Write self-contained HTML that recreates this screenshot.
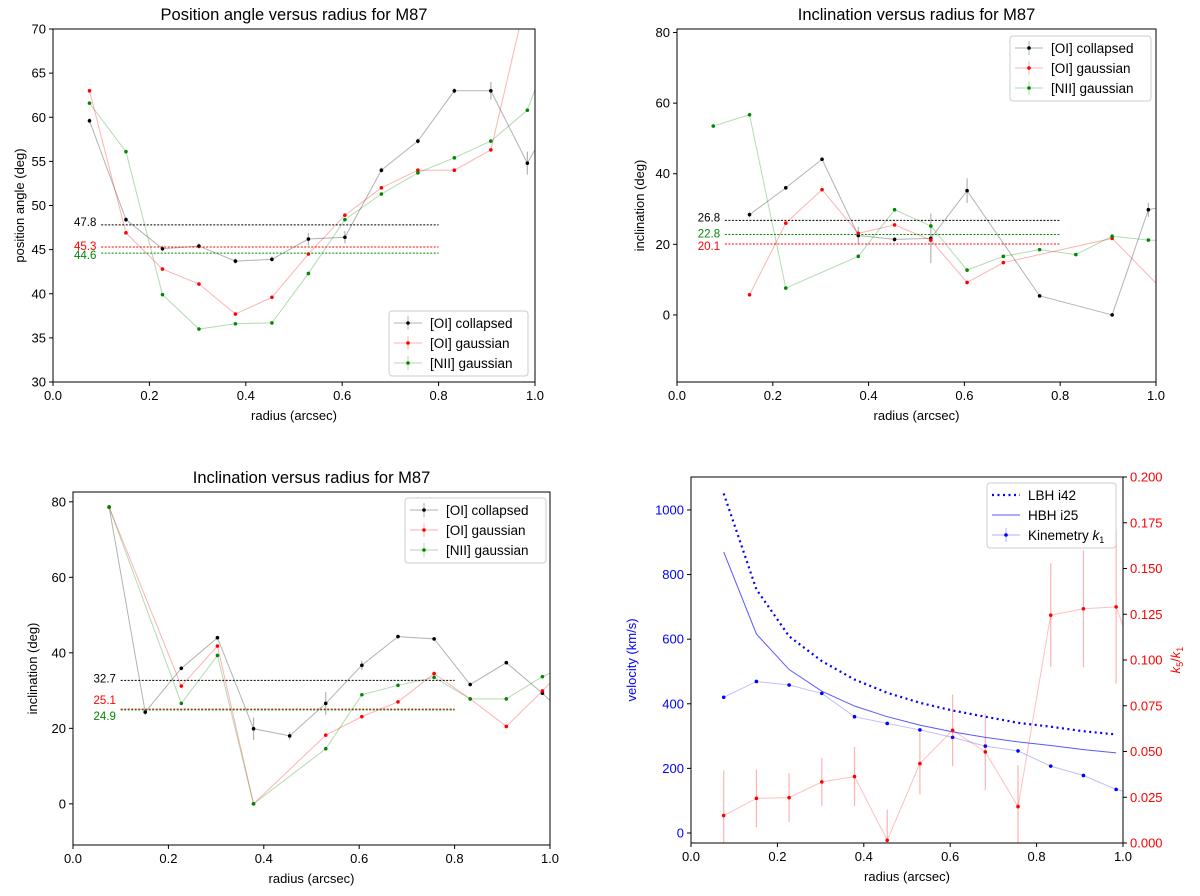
<!DOCTYPE html>
<html><head><meta charset="utf-8">
<style>
html,body{margin:0;padding:0;background:#fff;}
svg{display:block;font-family:"Liberation Sans","DejaVu Sans",sans-serif;}
</style></head>
<body>
<svg id="fig" width="1200" height="896" viewBox="0 0 1200 896" xmlns="http://www.w3.org/2000/svg"></svg>
<script>
const radii = [0.0757,0.1514,0.2271,0.3028,0.3785,0.4542,0.5299,0.6056,0.6813,0.757,0.8327,0.9084,0.9841,1.0598];

// Panel 1: position angle
const p1Black = [59.6,48.4,45.1,45.4,43.7,43.9,46.2,46.4,54.0,57.3,63.0,63.0,54.8,62];
const p1BlackErr = [0.3,0.3,0.3,0.3,0.3,0.3,0.7,0.7,0.3,0.3,0.3,1.0,1.3,0.5];
const p1Red = [63.0,46.9,42.8,41.1,37.7,39.6,44.5,48.9,52.0,54.0,54.0,56.3,74,80];
const p1Green = [61.6,56.1,39.9,36.0,36.6,36.7,42.3,48.4,51.3,53.7,55.4,57.3,60.8,72];
const p1Means = [47.8,45.3,44.6];

// Panel 2: inclination (top right)
const p2BlackX = [0.1514,0.2271,0.3028,0.3785,0.4542,0.5299,0.6056,0.757,0.9084,0.9841,1.0598];
const p2Black = [28.4,36.0,44.1,22.5,21.4,21.7,35.2,5.4,0.0,29.8,32];
const p2BlackErr = [0.8,0.5,0.5,2.5,0.6,7,3.5,0.3,0.3,2,0.5];
const p2RedX = [0.1514,0.2271,0.3028,0.3785,0.4542,0.5299,0.6056,0.6813,0.9084,1.0598];
const p2Red = [5.7,26.0,35.5,23.1,25.5,21.2,9.2,14.8,21.7,0.7];
const p2GreenX = [0.0757,0.1514,0.2271,0.3785,0.4542,0.5299,0.6056,0.6813,0.757,0.8327,0.9084,0.9841,1.0598];
const p2Green = [53.5,56.7,7.6,16.6,29.8,25.2,12.7,16.6,18.5,17.1,22.3,21.2,21.0];
const p2Means = [26.8,22.8,20.1];

// Panel 3: inclination (bottom left)
const p3BlackX = [0.0757,0.1514,0.2271,0.3028,0.3785,0.4542,0.5299,0.6056,0.6813,0.757,0.8327,0.9084,0.9841,1.0598];
const p3Black = [78.6,24.3,35.9,44.0,19.9,18.0,26.6,36.7,44.3,43.7,31.6,37.4,29.3,20];
const p3BlackErr = [0.5,0.8,0.5,0.5,3,1,3,1.2,0.5,0.5,0.5,0.5,0.5,0.5];
const p3RedX = [0.0757,0.2271,0.3028,0.3785,0.5299,0.6056,0.6813,0.757,0.8327,0.9084,0.9841,1.0598];
const p3Red = [78.6,31.2,41.8,0.0,18.2,23.1,27.0,34.5,27.8,20.5,29.9,40];
const p3GreenX = [0.0757,0.2271,0.3028,0.3785,0.5299,0.6056,0.6813,0.757,0.8327,0.9084,0.9841,1.0598];
const p3Green = [78.6,26.6,39.3,0.0,14.6,28.9,31.4,33.5,27.8,27.8,33.7,38];
const p3Means = [32.7,25.1,24.9];

// Panel 4: velocity + k5/k1
const p4Lbh = [1051,754,609,532,475,434,403,379,360,341,329,315,305];
const p4Hbh = [870,616,506,439,393,360,334,313,296,282,271,258,248];
const p4Kin = [420,469,458,432,360,339,319,296,269,254,207,178,135,110];
const p4K5 = [0.0150,0.0244,0.0248,0.0334,0.0363,0.0015,0.0434,0.0616,0.0498,0.0199,0.1245,0.128,0.129,0.08];
const p4K5Err = [0.0246,0.0157,0.0133,0.0131,0.0162,0.0168,0.0168,0.0195,0.021,0.0226,0.0283,0.0319,0.0419,0.03];

const SVGNS = "http://www.w3.org/2000/svg";
const fig = document.getElementById('fig');
function el(tag, attrs, parent){ const e=document.createElementNS(SVGNS,tag); for(const k in attrs) e.setAttribute(k,attrs[k]); (parent||fig).appendChild(e); return e; }
function txt(s, attrs, parent){ const t=el('text',attrs,parent); t.textContent=s; return t; }

function makePanel(cfg){
  const g = el('g',{});
  
  
  const {x0,x1,y0,y1,ymin,ymax} = cfg;
  const sx = v => x0 + (v-0)/(1-0)*(x1-x0);
  const sy = v => y1 - (v-ymin)/(ymax-ymin)*(y1-y0);
  const cid = cfg.name+'-clip';
  const defs = el('defs',{},g);
  const cp = el('clipPath',{id:cid},defs);
  el('rect',{x:x0,y:y0,width:x1-x0,height:y1-y0},cp);
  const plot = el('g',{'clip-path':'url(#'+cid+')'},g);
  
  
  const t = txt(cfg.title,{x:(x0+x1)/2,y:y0-9,'text-anchor':'middle','font-size':16.5,fill:'#000'},g);
  
  
  const xt=[0,0.2,0.4,0.6,0.8,1.0];
  xt.forEach(v=>{
    el('line',{x1:sx(v),x2:sx(v),y1:y1,y2:y1+4,stroke:'#000','stroke-width':1},g);
    const l=txt(v.toFixed(1),{x:sx(v),y:y1+18,'text-anchor':'middle','font-size':13},g);
    
    
  });
  const xl=txt('radius (arcsec)',{x:(x0+x1)/2,y:y1+38,'text-anchor':'middle','font-size':13},g);
  
  
  cfg.yticks.forEach(v=>{
    el('line',{x1:x0-4,x2:x0,y1:sy(v),y2:sy(v),stroke:'#000','stroke-width':1},g);
    const l=txt(String(v),{x:x0-7,y:sy(v)+4.5,'text-anchor':'end','font-size':13,fill:cfg.ytickColor||'#000'},g);
    
    
  });
  const yx = cfg.ylabelX, ym=(y0+y1)/2;
  const yl=txt(cfg.ylabel,{x:yx,y:ym,'text-anchor':'middle','font-size':13,fill:cfg.ylabelColor||'#000',transform:`rotate(-90 ${yx} ${ym})`},g);
  
  
  return {g,plot,sx,sy};
}

function series(P, xs, ys, color, name, errs, opts){
  opts=opts||{};
  const sg = el('g',{},P.plot);
  
  
  const pts = xs.map((x,i)=>P.sx(x)+','+P.sy(ys[i])).join(' ');
  el('polyline',{points:pts,fill:'none',stroke:color,'stroke-width':opts.lw||1,'stroke-opacity':opts.alpha==null?0.3:opts.alpha,'stroke-dasharray':opts.dash||'none'},sg);
  if(errs){
    xs.forEach((x,i)=>{
      const e=el('line',{x1:P.sx(x),x2:P.sx(x),y1:P.sy(ys[i]-errs[i]),y2:P.sy(ys[i]+errs[i]),stroke:color,'stroke-width':1.2,'stroke-opacity':opts.ealpha||0.3},sg);
      
      
    });
  }
  if(!opts.nomark){
    xs.forEach((x,i)=>{
      const m=el('circle',{cx:P.sx(x),cy:P.sy(ys[i]),r:1.8,fill:color},sg);
      
      
    });
  }
}

function means(P, vals, colors, labelDy){
  vals.forEach((v,i)=>{
    const l=el('line',{x1:P.sx(0.1),x2:P.sx(0.8),y1:P.sy(v),y2:P.sy(v),stroke:colors[i],'stroke-width':1,'stroke-dasharray':'2,1.5'},P.g);
    
    
    const t=txt(v.toFixed(1),{x:P.sx(0.09),y:P.sy(v)+4+(labelDy?labelDy[i]:0),'text-anchor':'end','font-size':11.5,fill:colors[i]},P.g);
    
    
  });
}

function frame(P,cfg){
  el('rect',{x:cfg.x0,y:cfg.y0,width:cfg.x1-cfg.x0,height:cfg.y1-cfg.y0,fill:'none',stroke:'#000','stroke-width':1},P.g);
}

function legend(P, x, y, w, entries){
  const lg = el('g',{},P.g);
  
  
  el('rect',{x:x,y:y,width:w,height:entries.length*20+5,rx:3,fill:'#fff','fill-opacity':0.85,stroke:'#ccc','stroke-width':1},lg);
  entries.forEach((e,i)=>{
    const eg=el('g',{},lg);
    
    
    const cy=y+12+i*20;
    el('line',{x1:x+5,x2:x+33,y1:cy,y2:cy,stroke:e.color,'stroke-width':e.lw||1,'stroke-opacity':e.alpha==null?0.3:e.alpha,'stroke-dasharray':e.dash||'none'},eg);
    if(e.marker){
      el('line',{x1:x+19,x2:x+19,y1:cy-7,y2:cy+7,stroke:e.color,'stroke-opacity':0.3},eg);
      el('circle',{cx:x+19,cy:cy,r:1.8,fill:e.color},eg);
    }
    const t=txt(e.label,{x:x+41,y:cy+5,'font-size':13.5},eg);
    if(e.html){ t.textContent=''; t.innerHTML=e.html; }
  });
}

// ---------- Panel 1 ----------
const c1={name:'panel-position-angle',x0:53,x1:535,y0:29,y1:382,ymin:30,ymax:70,yticks:[30,35,40,45,50,55,60,65,70],title:'Position angle versus radius for M87',ylabel:'position angle (deg)',ylabelX:24};
const P1=makePanel(c1);
means(P1,p1Means,['#000','#f00','#080'],[-3,-1,2]);
series(P1,radii,p1Black,'#000','series-oi-collapsed',p1BlackErr);
series(P1,radii,p1Red,'#f00','series-oi-gaussian');
series(P1,radii,p1Green,'#080','series-nii-gaussian');
frame(P1,c1);
legend(P1,389,311,139,[{label:'[OI] collapsed',color:'#000',marker:1},{label:'[OI] gaussian',color:'#f00',marker:1},{label:'[NII] gaussian',color:'#080',marker:1}]);

// ---------- Panel 2 ----------
const c2={name:'panel-inclination-top',x0:677,x1:1156,y0:29,y1:382,ymin:-19,ymax:81,yticks:[0,20,40,60,80],title:'Inclination versus radius for M87',ylabel:'inclination (deg)',ylabelX:644};
const P2=makePanel(c2);
means(P2,p2Means,['#000','#080','#f00'],[-3,-1,2]);
series(P2,p2BlackX,p2Black,'#000','series-oi-collapsed',p2BlackErr);
series(P2,p2RedX,p2Red,'#f00','series-oi-gaussian');
series(P2,p2GreenX,p2Green,'#080','series-nii-gaussian');
frame(P2,c2);
legend(P2,1010,36,141,[{label:'[OI] collapsed',color:'#000',marker:1},{label:'[OI] gaussian',color:'#f00',marker:1},{label:'[NII] gaussian',color:'#080',marker:1}]);

// ---------- Panel 3 ----------
const c3={name:'panel-inclination-bottom',x0:73,x1:550,y0:492,y1:845,ymin:-10.9,ymax:82.6,yticks:[0,20,40,60,80],title:'Inclination versus radius for M87',ylabel:'inclination (deg)',ylabelX:37};
const P3=makePanel(c3);
means(P3,p3Means,['#000','#f00','#080'],[-2,-9,6]);
series(P3,p3BlackX,p3Black,'#000','series-oi-collapsed',p3BlackErr);
series(P3,p3RedX,p3Red,'#f00','series-oi-gaussian');
series(P3,p3GreenX,p3Green,'#080','series-nii-gaussian');
frame(P3,c3);
legend(P3,405,498,141,[{label:'[OI] collapsed',color:'#000',marker:1},{label:'[OI] gaussian',color:'#f00',marker:1},{label:'[NII] gaussian',color:'#080',marker:1}]);

// ---------- Panel 4 ----------
const c4={name:'panel-velocity',x0:691,x1:1123,y0:477,y1:843,ymin:-31,ymax:1102,yticks:[0,200,400,600,800,1000],title:'',ylabel:'velocity (km/s)',ylabelX:636,ytickColor:'#00f',ylabelColor:'#00f'};
const P4=makePanel(c4);
const r13=radii.slice(0,13);
series(P4,r13,p4Lbh,'#00f','series-lbh-i42',null,{nomark:1,alpha:1,lw:2.2,dash:'2,3.5'});
series(P4,r13,p4Hbh,'#00f','series-hbh-i25',null,{nomark:1,alpha:0.65,lw:1});
series(P4,radii,p4Kin,'#00f','series-kinemetry-k1',null,{alpha:0.25});
const sy4r = v => c4.y1 - v/0.2*(c4.y1-c4.y0);
const P4r={plot:P4.plot,sx:P4.sx,sy:sy4r,g:P4.g};
series(P4r,radii,p4K5,'#f00','series-k5-k1',p4K5Err,{alpha:0.25,ealpha:0.3});
frame(P4,c4);
[0,0.025,0.05,0.075,0.1,0.125,0.15,0.175,0.2].forEach(v=>{
  el('line',{x1:c4.x1,x2:c4.x1+4,y1:sy4r(v),y2:sy4r(v),stroke:'#000'},P4.g);
  const l=txt(v.toFixed(3),{x:c4.x1+7,y:sy4r(v)+4.5,'font-size':13,fill:'#f00'},P4.g);
  
  
});
const rl=txt('',{x:1180,y:660,'text-anchor':'middle','font-size':13,fill:'#f00',transform:'rotate(-90 1180 660)'},P4.g);
rl.innerHTML='<tspan font-style="italic">k</tspan><tspan font-size="9" dy="3">5</tspan><tspan dy="-3">/</tspan><tspan font-style="italic">k</tspan><tspan font-size="9" dy="3">1</tspan>';


legend(P4,987,483,129,[{label:'LBH i42',color:'#00f',alpha:1,lw:2.2,dash:'2,3.5'},{label:'HBH i25',color:'#00f',alpha:0.65},{label:'Kinemetry k1',color:'#00f',marker:1,html:'Kinemetry <tspan font-style="italic">k</tspan><tspan font-size="9" dy="3">1</tspan>'}]);
</script>
</body></html>
